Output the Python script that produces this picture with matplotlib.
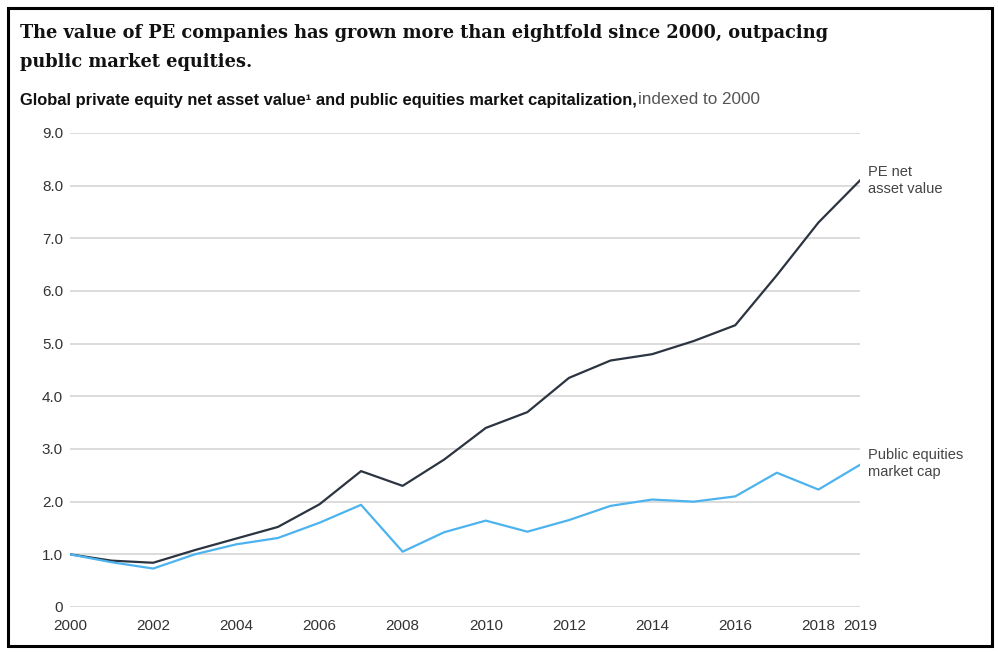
import matplotlib
matplotlib.use("Agg")
import matplotlib.pyplot as plt
from matplotlib.patches import Rectangle

years = list(range(2000, 2020))
pe_nav = [1.0, 0.88, 0.84, 1.08, 1.30, 1.52, 1.95, 2.58, 2.30, 2.80,
          3.40, 3.70, 4.35, 4.68, 4.80, 5.05, 5.35, 6.30, 7.30, 8.10]
public_cap = [1.0, 0.85, 0.73, 1.00, 1.19, 1.31, 1.60, 1.94, 1.05, 1.42,
              1.64, 1.43, 1.65, 1.92, 2.04, 2.00, 2.10, 2.55, 2.23, 2.70]
yticks = [0, 1, 2, 3, 4, 5, 6, 7, 8, 9]
ytick_labels = ["0", "1.0", "2.0", "3.0", "4.0", "5.0", "6.0", "7.0", "8.0", "9.0"]
xticks = [2000, 2002, 2004, 2006, 2008, 2010, 2012, 2014, 2016, 2018, 2019]

W, H = 998, 654
SANS = "Liberation Sans"
fig = plt.figure(figsize=(W / 100, H / 100), dpi=100)
fig.patches.append(Rectangle((8 / W, 8 / H), 984 / W, 638 / H, transform=fig.transFigure,
                             fill=False, edgecolor="black", linewidth=2.2))
renderer = fig.canvas.get_renderer()


def fit_width(txt, target_px):
    """shrink/grow a text until it spans target_px."""
    for _ in range(3):
        w = txt.get_window_extent(renderer).width
        txt.set_fontsize(txt.get_fontsize() * target_px / w)


# axes: x 70..860 px, y 0 at 607 px, 9 at 133 px
ax = fig.add_axes([70 / W, (H - 607) / H, 790 / W, 474 / H])
ax.plot(years, pe_nav, color="#2b3440", lw=1.6, solid_joinstyle="round", zorder=3)
ax.plot(years, public_cap, color="#4db3ef", lw=1.6, solid_joinstyle="round", zorder=3)
ax.set_xlim(2000, 2019)
ax.set_ylim(0, 9)
for y in yticks:
    ax.axhline(y, color="#d6d6d6", lw=1.2, zorder=1)
for s in ax.spines.values():
    s.set_visible(False)
ax.set_yticks(yticks)
ax.set_yticklabels(ytick_labels, family=SANS)
ax.set_xticks(xticks)
ax.set_xticklabels([str(x) for x in xticks], family=SANS)
ax.tick_params(length=0, labelsize=11, labelcolor="#333333")
ax.tick_params(axis="y", pad=5)
ax.tick_params(axis="x", pad=9)

ax.text(2019.2, pe_nav[-1], "PE net\nasset value", fontsize=10.5, color="#444444", family=SANS,
        va="center", ha="left", linespacing=1.25, clip_on=False)
ax.text(2019.2, public_cap[-1] + 0.03, "Public equities\nmarket cap", fontsize=10.5, family=SANS,
        color="#444444", va="center", ha="left", linespacing=1.25, clip_on=False)

t1 = fig.text(20 / W, 1 - 33 / H, "The value of PE companies has grown more than eightfold since 2000, outpacing",
              fontsize=16, fontweight="bold", family="DejaVu Serif", va="center", ha="left", color="#111111")
fit_width(t1, 808)
fig.text(20 / W, 1 - 62 / H, "public market equities.", fontsize=t1.get_fontsize(), fontweight="bold",
         family="DejaVu Serif", va="center", ha="left", color="#111111")

s1 = fig.text(20 / W, 1 - 100 / H, "Global private equity net asset value\u00b9 and public equities market capitalization,",
              fontsize=11, fontweight="bold", family=SANS, va="center", ha="left", color="#111111")
fit_width(s1, 613)
s2 = fig.text(638 / W, 1 - 100 / H, "indexed to 2000", fontsize=s1.get_fontsize(), family=SANS,
              va="center", ha="left", color="#555555")
fit_width(s2, 122)

fig.savefig("out.png", dpi=100)
